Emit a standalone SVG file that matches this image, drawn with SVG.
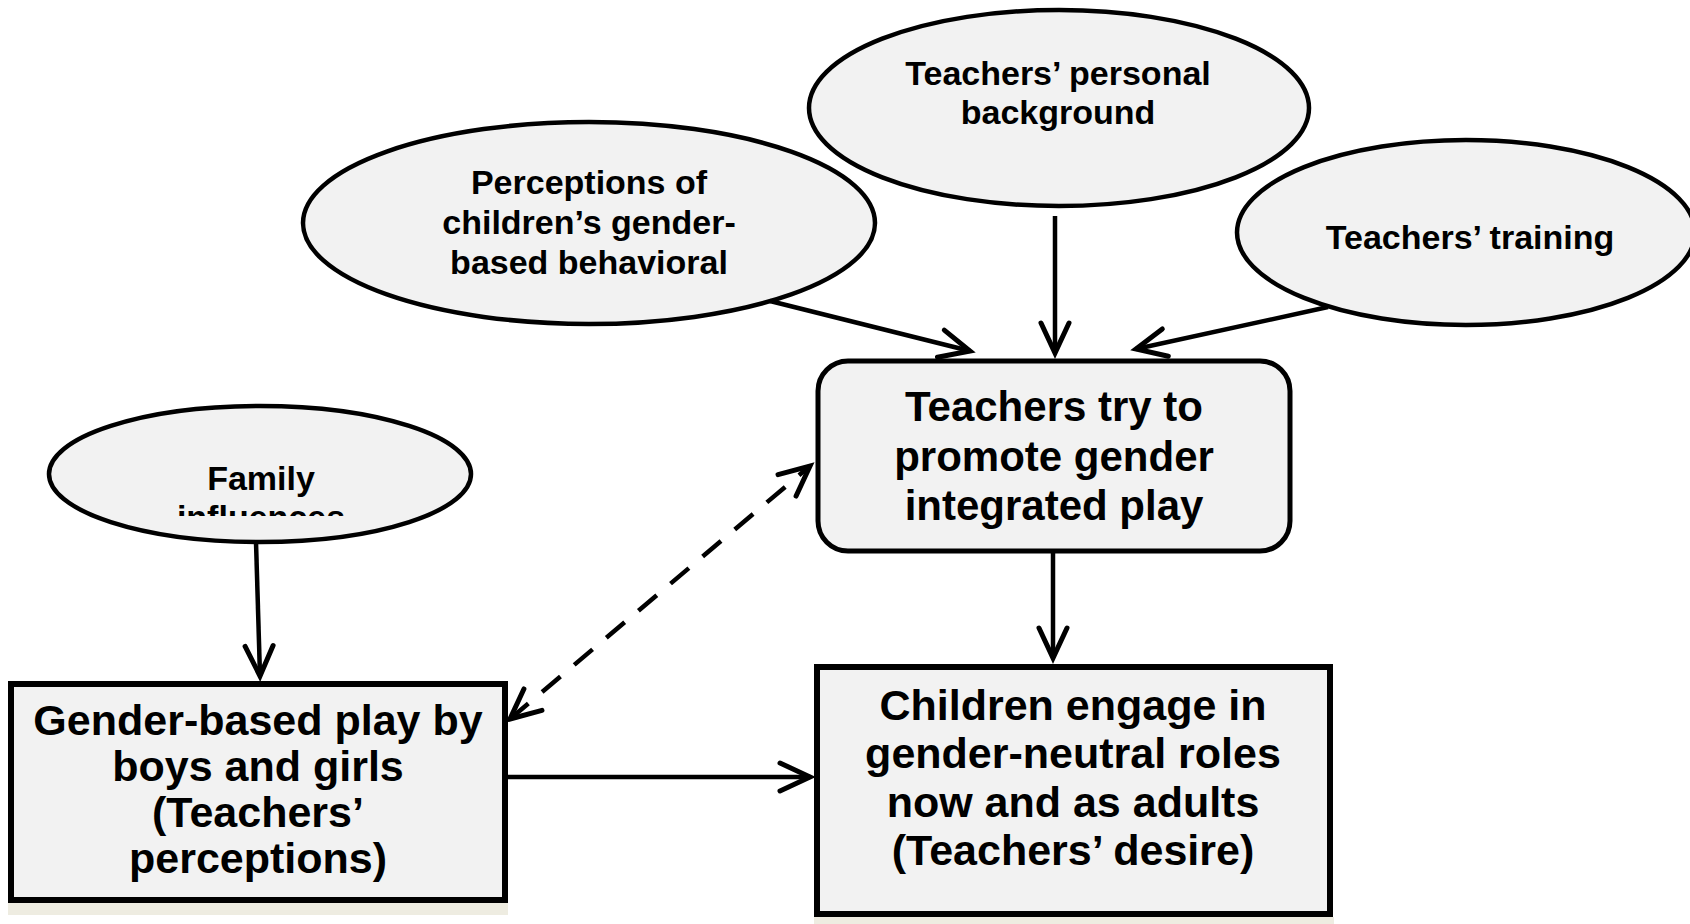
<svg xmlns="http://www.w3.org/2000/svg" width="1690" height="924" viewBox="0 0 1690 924">
<style>
.shape{fill:#f2f2f2;stroke:#000}
.ell{stroke-width:4.5}
.t{font-family:"Liberation Sans",Arial,Helvetica,sans-serif;font-weight:bold;fill:#000;text-anchor:middle}
.s{font-size:34px}
.b{font-size:43px}
.conn{fill:none;stroke:#000;stroke-width:4.5}
.dash{stroke-dasharray:24 18}
.strip{fill:#eeece1}
</style>
<defs>
<marker id="arr" markerUnits="userSpaceOnUse" markerWidth="46" markerHeight="40" viewBox="-36 -20 46 40" refX="0" refY="0" orient="auto-start-reverse">
<path d="M -30 -14 L 0 0 L -30 14" fill="none" stroke="#000" stroke-width="5" stroke-linecap="round" stroke-dasharray="none"/>
</marker>
<clipPath id="famclip"><rect x="40" y="400" width="440" height="116"/></clipPath>
</defs>
<rect width="1690" height="924" fill="#fff"/>

<g id="node-perceptions">
<ellipse class="shape ell" cx="589" cy="223" rx="286" ry="101"/>
<text class="t s" x="589" y="194">Perceptions of</text>
<text class="t s" x="589" y="234">children’s gender-</text>
<text class="t s" x="589" y="274">based behavioral</text>
</g>

<g id="node-background">
<ellipse class="shape ell" cx="1059" cy="108" rx="250" ry="98"/>
<text class="t s" x="1058" y="85">Teachers’ personal</text>
<text class="t s" x="1058" y="124">background</text>
</g>

<g id="node-training">
<ellipse class="shape ell" cx="1466" cy="232.5" rx="229" ry="92.5"/>
<text class="t s" x="1470" y="249">Teachers’ training</text>
</g>

<g id="node-family">
<ellipse class="shape ell" cx="260" cy="474" rx="211" ry="68"/>
<g clip-path="url(#famclip)">
<text class="t s" x="261" y="490">Family</text>
<text class="t s" x="261" y="529">influences</text>
</g>
</g>

<g id="node-promote">
<rect class="shape" x="818" y="361" width="472" height="190" rx="30" ry="30" stroke-width="5"/>
<text class="t" style="font-size:42px" x="1054" y="421">Teachers try to</text>
<text class="t" style="font-size:42px" x="1054" y="471">promote gender</text>
<text class="t" style="font-size:42px" x="1054" y="520">integrated play</text>
</g>

<g id="node-genderplay">
<rect class="strip" x="8" y="903" width="500" height="12"/>
<rect class="shape" x="11" y="684" width="494" height="216" stroke-width="6"/>
<text class="t b" x="258" y="735">Gender-based play by</text>
<text class="t b" x="258" y="781">boys and girls</text>
<text class="t b" x="258" y="827">(Teachers’</text>
<text class="t b" x="258" y="873">perceptions)</text>
</g>

<g id="node-children">
<rect class="strip" x="814" y="917" width="520" height="7"/>
<rect class="shape" x="817" y="667" width="513" height="247" stroke-width="6"/>
<text class="t b" x="1073" y="720">Children engage in</text>
<text class="t b" x="1073" y="768">gender-neutral roles</text>
<text class="t b" x="1073" y="817">now and as adults</text>
<text class="t b" x="1073" y="865">(Teachers’ desire)</text>
</g>

<g id="connectors">
<path class="conn" d="M 770 301 L 970 351" marker-end="url(#arr)"/>
<path class="conn" d="M 1055 216 L 1055 353" marker-end="url(#arr)"/>
<path class="conn" d="M 1328 307 L 1136 349" marker-end="url(#arr)"/>
<path class="conn" d="M 1053 553 L 1053 658" marker-end="url(#arr)"/>
<path class="conn" d="M 256 542 L 260 676" marker-end="url(#arr)"/>
<path class="conn" d="M 508 777 L 810 777" marker-end="url(#arr)"/>
<path class="conn dash" d="M 510 719 L 810 466" marker-start="url(#arr)" marker-end="url(#arr)"/>
</g>
</svg>
